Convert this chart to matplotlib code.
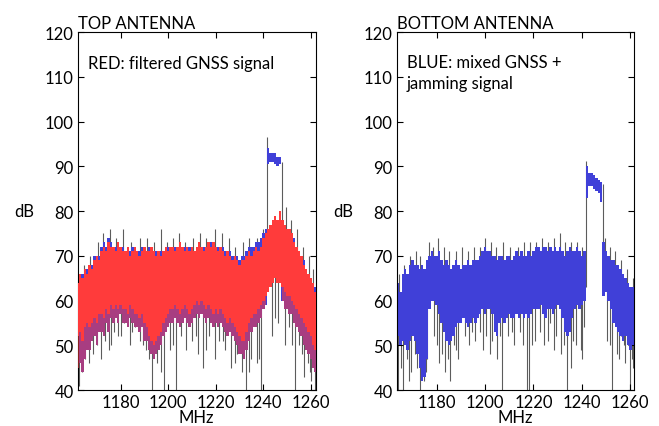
import numpy as np
from matplotlib import pyplot as plt

plt.rcParams['font.family'] = ['Lato', 'DejaVu Sans']

# ---------- top antenna (1 MHz bins, 1162..1262) ----------
f_top = np.arange(1162, 1263)
red_hi = [64, 66, 65, 67, 66, 68, 67, 69, 70, 69, 71, 72, 71, 73, 72,
          72, 71, 73, 72, 71, 71, 72, 70, 71, 72, 71, 70, 71, 72, 71,
          71, 72, 71, 70, 71, 70, 71, 72, 71, 72, 72, 71, 72, 73, 72,
          71, 72, 71, 72, 71, 72, 73, 72, 71, 72, 73, 72, 73, 72, 71,
          72, 71, 70, 71, 70, 69, 70, 69, 68, 69, 69, 70, 71, 70, 71,
          72, 71, 72, 74, 75, 76, 77, 78, 79, 78, 80, 78, 77, 76, 76,
          75, 73, 72, 71, 70, 68, 67, 66, 65, 64, 62]
red_lo = [52, 53, 51, 54, 55, 54, 55, 56, 55, 57, 57, 56, 58, 57, 59,
          58, 59, 58, 59, 58, 58, 57, 59, 58, 57, 57, 56, 57, 55, 54,
          52, 51, 50, 51, 52, 53, 55, 56, 57, 58, 58, 59, 58, 57, 58,
          59, 58, 57, 58, 59, 60, 59, 60, 59, 58, 59, 58, 57, 58, 57,
          58, 57, 56, 55, 56, 55, 54, 53, 52, 51, 51, 53, 55, 56, 57,
          57, 58, 59, 60, 61, 62, 63, 64, 65, 64, 64, 63, 62, 61, 61,
          60, 59, 58, 57, 56, 55, 54, 53, 52, 50, 49]
blue_hi_top = [65, 66, 66, 67, 67, 68, 68, 70, 70, 70, 72, 73, 72, 74, 73,
               72, 72, 73, 72, 72, 71, 72, 71, 72, 72, 71, 71, 72, 72, 71,
               72, 72, 71, 71, 71, 71, 71, 72, 72, 72, 72, 72, 72, 73, 72,
               72, 72, 72, 72, 71, 72, 73, 72, 72, 72, 73, 73, 73, 72, 72,
               72, 72, 71, 71, 71, 70, 70, 70, 69, 70, 70, 71, 72, 72, 72,
               73, 73, 74, 75, 76, 94, 93, 93, 93, 92, 92, 78, 77, 76, 76,
               75, 74, 72, 71, 70, 69, 67, 66, 65, 64, 63]
blue_lo_top = [45, 46, 44, 47, 49, 49, 51, 52, 50, 53, 53, 52, 55, 53, 56,
               55, 56, 55, 57, 55, 55, 54, 56, 55, 54, 54, 53, 54, 51, 51,
               49, 48, 47, 48, 49, 50, 52, 53, 54, 55, 55, 56, 55, 54, 55,
               56, 55, 54, 55, 56, 57, 56, 57, 56, 55, 56, 55, 54, 55, 54,
               55, 54, 53, 52, 53, 52, 51, 50, 48, 48, 47, 49, 51, 53, 54,
               54, 55, 56, 58, 59, 90.5, 91, 91, 90.5, 90, 90.5, 60, 58, 58, 57,
               57, 55, 54, 53, 52, 50, 49, 48, 47, 45, 44]

spk_top_f = [1162.6, 1163.8, 1165.2, 1166.8, 1168.4, 1170.0, 1171.6, 1173.5, 1175.0,
             1177.2, 1179.0, 1181.5, 1183.8, 1186.0, 1188.2, 1190.5, 1193.4, 1195.5,
             1198.3, 1200.8, 1203.3, 1205.5, 1207.6, 1210.0, 1212.5, 1214.6, 1217.0,
             1219.5, 1221.5, 1224.0, 1226.5, 1229.0, 1231.0, 1232.8, 1235.0, 1237.2,
             1239.2, 1243.8, 1246.0, 1249.2, 1251.0, 1253.3, 1255.2, 1257.0, 1258.8,
             1260.2, 1261.7,
             1176.0, 1180.0, 1185.0, 1189.5, 1192.0, 1197.0, 1202.0, 1211.5, 1216.0,
             1223.0, 1228.0, 1233.8, 1238.2, 1244.8, 1252.0, 1256.2, 1259.5,
             1164.5, 1167.0, 1170.5, 1172.5, 1175.5, 1178.0, 1181.0, 1184.5, 1188.0,
             1191.0, 1194.0, 1196.8, 1199.5, 1202.0, 1204.5, 1207.0, 1210.5, 1213.5,
             1216.0, 1219.5, 1222.5, 1225.5, 1228.0, 1231.5, 1234.0, 1237.5, 1240.0,
             1241.6, 1247.8, 1249.5, 1251.5, 1254.0, 1256.5, 1259.0, 1261.0]
spk_top_lo = [41, 44, 47, 46, 48, 50, 47, 51, 49,
              53, 52, 55, 50, 54, 51, 49, 40, 46,
              40, 49, 40, 52, 49, 51, 48, 45, 52,
              47, 51, 49, 45, 48, 44, 40, 47, 46,
              40, 52, 55, 50, 54, 40, 50, 43, 46,
              42, 40,
              50, 52, 53, 50, 47, 44, 50, 52, 49,
              51, 46, 44, 47, 56, 50, 48, 44,
              64, 66, 68, 69, 70, 69, 70, 68, 68,
              68, 68, 68, 69, 69, 70, 68, 68, 69,
              68, 69, 68, 68, 67, 67, 68, 69, 71,
              74, 65, 74, 72, 70, 67, 65, 62]
spk_top_hi = [60, 58, 58, 60, 60, 62, 60, 62, 62,
              63, 63, 63, 63, 63, 62, 62, 60, 60,
              60, 62, 62, 63, 63, 63, 63, 63, 63,
              63, 63, 63, 62, 62, 60, 60, 62, 62,
              64, 68, 70, 68, 66, 65, 64, 60, 58,
              57, 56,
              60, 62, 62, 62, 58, 58, 62, 63, 63,
              62, 60, 58, 62, 70, 64, 62, 58,
              68, 70, 73, 75, 76, 74, 76, 73, 74,
              74, 73, 76, 73, 74, 75, 73, 74, 75,
              74, 76, 75, 74, 72, 73, 74, 74, 76,
              96.5, 91, 81, 78, 76, 72, 70, 67]

# ---------- bottom antenna (1 MHz bins, 1163..1262) ----------
f_bot = np.arange(1163, 1263)
blue_hi_bot = [63, 64, 62, 66, 67, 66, 68, 69, 68, 68, 67, 68, 67, 69,
               70, 71, 70, 70, 71, 69, 68, 69, 68, 67, 68, 69, 68, 67, 68,
               68, 69, 68, 69, 69, 69, 70, 71, 72, 71, 71, 70, 70, 69, 70,
               70, 69, 70, 70, 69, 70, 71, 70, 71, 70, 70, 71, 70, 71, 72,
               72, 71, 72, 72, 71, 72, 71, 72, 71, 72, 71, 70, 71, 72, 71,
               71, 72, 71, 70, 71, 90, 88.5, 88.5, 88, 87.5, 87, 86.5,
               73, 71, 70, 69, 69, 68, 68, 67, 66, 65, 64, 63, 63, 62]
blue_lo_bot = [51, 52, 50, 51, 50, 49, 51, 52, 51, 48, 45, 42, 43, 47,
               58, 60, 60, 59, 57, 55, 53, 51, 50, 51, 52, 54, 55, 55, 56,
               55, 54, 55, 56, 55, 56, 57, 58, 57, 58, 58, 57, 53, 52, 55,
               56, 55, 56, 57, 56, 56, 57, 56, 57, 56, 57, 56, 57, 58, 58,
               58, 59, 57, 56, 58, 58, 57, 58, 59, 58, 56, 53, 52, 53, 56,
               58, 59, 58, 59, 60, 83, 85.5, 85.5, 85, 84.5, 84, 82,
               61, 62, 60, 58, 55, 54, 53, 52, 51, 52, 50, 49, 50, 51]

spk_bot_f = [1163.5, 1164.2, 1165.3, 1166.3, 1167.8, 1169.5, 1171.0, 1172.0, 1173.2,
             1174.8, 1176.0, 1180.0, 1182.0, 1183.5, 1185.5, 1187.0, 1189.0, 1191.5,
             1193.5, 1196.0, 1198.0, 1200.5, 1203.0, 1205.0, 1207.0, 1209.5, 1212.0,
             1214.5, 1217.3, 1218.0, 1220.5, 1222.5, 1224.5, 1227.0, 1229.5, 1231.5,
             1233.8, 1235.5, 1237.5, 1239.5, 1241.0, 1250.5, 1252.3, 1254.5, 1256.0,
             1258.0, 1259.9, 1261.3,
             1168.6, 1175.5, 1179.0, 1181.0, 1184.5, 1188.0, 1194.5, 1199.0, 1202.0,
             1206.0, 1211.0, 1215.5, 1219.5, 1226.0, 1228.5, 1232.5, 1236.5, 1240.2,
             1251.5, 1255.2, 1257.2, 1260.6,
             1164.5, 1166.5, 1169.0, 1171.5, 1173.0, 1176.8, 1178.5, 1180.5, 1183.0,
             1185.0, 1188.0, 1190.5, 1193.0, 1195.5, 1198.0, 1200.0, 1202.5, 1204.5,
             1207.5, 1210.5, 1213.5, 1216.0, 1218.5, 1221.0, 1223.5, 1226.0, 1228.5,
             1231.0, 1233.0, 1235.5, 1238.0, 1240.0, 1241.5, 1248.6, 1249.5, 1251.5,
             1253.5, 1256.0, 1258.5, 1261.0]
spk_bot_lo = [40, 40, 45, 40, 47, 44, 48, 45, 40,
              42, 47, 50, 48, 44, 42, 50, 47, 52,
              50, 51, 53, 52, 51, 47, 40, 52, 50,
              53, 40, 40, 51, 53, 50, 55, 52, 48,
              40, 45, 50, 49, 54, 51, 40, 48, 52,
              46, 40, 45,
              42, 44, 52, 46, 47, 49, 53, 49, 48,
              52, 53, 50, 50, 51, 49, 50, 51, 47,
              50, 47, 50, 47,
              62, 64, 66, 67, 66, 68, 68, 69, 67,
              66, 66, 67, 66, 67, 67, 69, 68, 67,
              68, 67, 67, 68, 68, 68, 69, 68, 69,
              69, 68, 68, 68, 67, 63, 62, 69, 67,
              66, 64, 62, 60]
spk_bot_hi = [58, 58, 58, 58, 58, 58, 58, 58, 56,
              56, 58, 64, 62, 60, 60, 62, 62, 62,
              62, 62, 63, 63, 63, 63, 63, 63, 63,
              63, 63, 63, 64, 64, 64, 64, 64, 63,
              62, 62, 63, 63, 63, 64, 62, 60, 60,
              58, 57, 57,
              58, 56, 64, 62, 60, 62, 62, 63, 62,
              62, 63, 63, 63, 64, 63, 62, 62, 62,
              62, 60, 58, 57,
              66, 68, 70, 71, 70, 73, 72, 74, 72,
              71, 71, 72, 71, 72, 72, 74, 73, 72,
              73, 72, 72, 73, 73, 73, 74, 73, 74,
              75, 73, 73, 73, 72, 91.2, 86, 74, 72,
              71, 69, 67, 65]

RED = '#ff3b3b'
BLUE = '#4040d8'
GREY = '#5c5c5c'

fig = plt.figure(figsize=(6.59, 4.27), dpi=100)
ax1 = fig.add_axes([0.118, 0.0843, 0.361, 0.838])
ax2 = fig.add_axes([0.602, 0.0843, 0.360, 0.838])

# top antenna
ax1.vlines(spk_top_f, spk_top_lo, spk_top_hi, color=GREY, lw=0.8, zorder=1)
ax1.fill_between(f_top, blue_lo_top, blue_hi_top, step='mid', color=BLUE, lw=0, zorder=2)
ax1.fill_between(f_top, red_lo, red_hi, step='mid', color=RED, lw=0, zorder=3)
lo_b = np.array(blue_lo_top)
lo_r = np.array(red_lo)
ax1.fill_between(f_top, lo_b, lo_r, where=lo_b < lo_r, step='mid',
                 color=RED, alpha=0.55, lw=0, zorder=3)

# bottom antenna
ax2.vlines(spk_bot_f, spk_bot_lo, spk_bot_hi, color=GREY, lw=0.8, zorder=1)
ax2.fill_between(f_bot, blue_lo_bot, blue_hi_bot, step='mid', color=BLUE, lw=0, zorder=2)

for ax, xl in [(ax1, (1162, 1262)), (ax2, (1163.5, 1261.5))]:
    ax.set_xlim(*xl)
    ax.set_ylim(40, 120)
    ax.set_xticks([1180, 1200, 1220, 1240, 1260])
    ax.set_yticks(range(40, 121, 10))
    ax.tick_params(direction='in', top=True, right=True, length=4,
                   labelsize=12, pad=3)
    ax.set_xlabel('MHz', fontsize=12, labelpad=-1)
    ax.text(-0.225, 0.5, 'dB', transform=ax.transAxes, fontsize=12,
            va='center', ha='center')

ax1.set_title('TOP ANTENNA', loc='left', fontsize=12, pad=3)
ax2.set_title('BOTTOM ANTENNA', loc='left', fontsize=12, pad=3)
ax1.text(0.042, 0.915, 'RED: filtered GNSS signal', transform=ax1.transAxes,
         fontsize=12, va='center')
ax2.text(0.042, 0.888, 'BLUE: mixed GNSS +\njamming signal', transform=ax2.transAxes,
         fontsize=12, va='center', linespacing=1.4)

plt.savefig('out.png', dpi=100)
